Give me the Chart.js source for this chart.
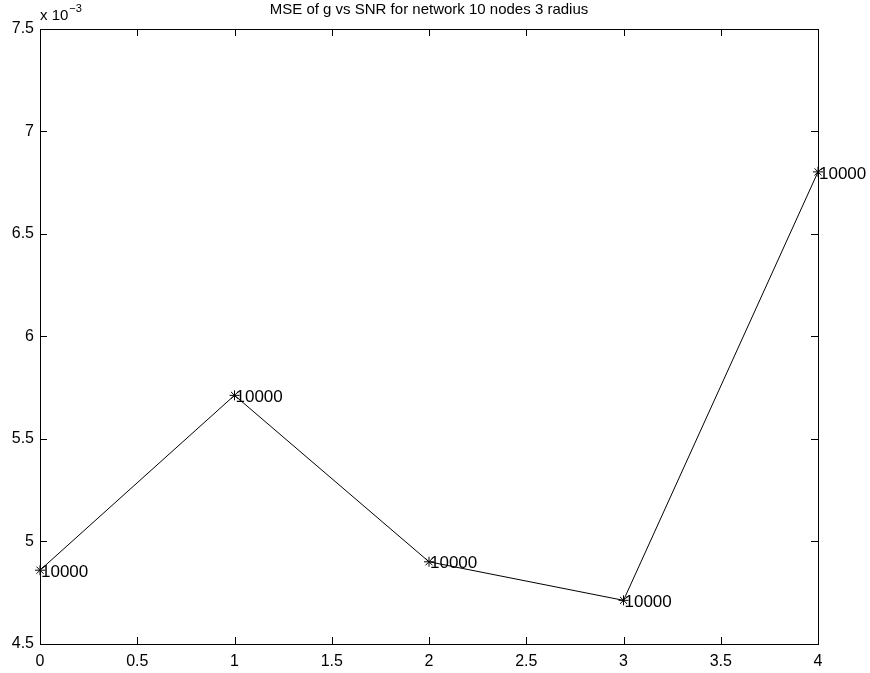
<!DOCTYPE html>
<html>
<head>
<meta charset="utf-8">
<script src="https://cdn.jsdelivr.net/npm/chart.js@4/dist/chart.umd.min.js"></script>
<style>
  html, body { margin: 0; padding: 0; background: #fff; }
  #wrap { width: 870px; height: 673px; }
</style>
</head>
<body>
<div id="wrap"><canvas id="mse-chart" width="870" height="673"></canvas></div>
<script>
// SNR values on the x axis
const snr = [0, 1, 2, 3, 4]
const mse = [0.00486, 0.005713, 0.004901, 0.004713, 0.006803]
// text written next to each point
const pointLabels = ['10000', '10000', '10000', '10000', '10000']
const xTicks = [0, 0.5, 1, 1.5, 2, 2.5, 3, 3.5, 4]
const yTicks = [0.0045, 0.005, 0.0055, 0.006, 0.0065, 0.007, 0.0075]

const FONT = '"Liberation Sans", Helvetica, Arial, sans-serif'

/*
 * MATLAB style box, inward ticks, point labels, exponent and title
 */
const matlabAxes = {
  id: 'matlabAxes',
  afterDatasetsDraw(chart) {
    const ctx = chart.ctx
    const a = chart.chartArea
    const xs = chart.scales.x
    const ys = chart.scales.y
    ctx.save()
    ctx.strokeStyle = '#000'
    ctx.lineWidth = 1
    ctx.strokeRect(Math.round(a.left) + 0.5, Math.round(a.top) + 0.5,
      Math.round(a.right - a.left), Math.round(a.bottom - a.top))
    ctx.beginPath()
    const tl = 7
    xTicks.forEach(v => {
      const px = Math.round(xs.getPixelForValue(v)) + 0.5
      ctx.moveTo(px, a.bottom); ctx.lineTo(px, a.bottom - tl)
      ctx.moveTo(px, a.top); ctx.lineTo(px, a.top + tl)
    })
    yTicks.forEach(v => {
      const py = Math.round(ys.getPixelForValue(v)) + 0.5
      ctx.moveTo(a.left, py); ctx.lineTo(a.left + tl, py)
      ctx.moveTo(a.right, py); ctx.lineTo(a.right - tl, py)
    })
    ctx.stroke()

    // labels beside the points
    const meta = chart.getDatasetMeta(0)
    ctx.fillStyle = '#000'
    ctx.font = '17px ' + FONT
    ctx.textAlign = 'left'
    ctx.textBaseline = 'middle'
    meta.data.forEach((pt, i) => {
      ctx.fillText(pointLabels[i], pt.x + 1, pt.y + 2)
    })

    // exponent
    ctx.font = '15px ' + FONT
    ctx.textBaseline = 'alphabetic'
    ctx.fillText('x 10', a.left, a.top - 9)
    const w = ctx.measureText('x 10').width
    ctx.font = '11px ' + FONT
    ctx.fillText('\u22123', a.left + w + 1, a.top - 17)

    // title
    ctx.font = '15px ' + FONT
    ctx.textAlign = 'center'
    ctx.textBaseline = 'middle'
    ctx.fillText('MSE of g vs SNR for network 10 nodes 3 radius', (a.left + a.right) / 2, 10)
    ctx.restore()
  }
}

const chart = new Chart(document.getElementById('mse-chart').getContext('2d'), {
  type: 'line',
  data: {
    datasets: [{
      data: snr.map((x, i) => ({ x: x, y: mse[i] })),
      borderColor: '#000',
      borderWidth: 1,
      pointStyle: 'star',
      pointRadius: 5,
      pointBorderColor: '#000',
      pointBorderWidth: 1,
      backgroundColor: 'transparent',
      tension: 0,
      clip: false
    }]
  },
  options: {
    responsive: false,
    animation: false,
    devicePixelRatio: 1,
    layout: { padding: { left: 0, right: 52, top: 29, bottom: 0 } },
    plugins: { legend: { display: false }, tooltip: { enabled: false } },
    scales: {
      x: {
        type: 'linear',
        min: 0, max: 4,
        afterBuildTicks: s => { s.ticks = xTicks.map(v => ({ value: v })) },
        afterFit: s => { s.height = 29 },
        grid: { display: false, drawTicks: false },
        border: { display: false },
        ticks: {
          color: '#000', padding: 8, maxRotation: 0, font: { family: FONT, size: 16 },
          callback: v => String(v)
        }
      },
      y: {
        type: 'linear',
        min: 0.0045, max: 0.0075,
        afterBuildTicks: s => { s.ticks = yTicks.map(v => ({ value: v })) },
        afterFit: s => { s.width = 40 },
        grid: { display: false, drawTicks: false },
        border: { display: false },
        ticks: {
          color: '#000', padding: 6, font: { family: FONT, size: 16 },
          callback: v => String(Math.round(v * 10000) / 10)
        }
      }
    }
  },
  plugins: [matlabAxes]
})
</script>
</body>
</html>
